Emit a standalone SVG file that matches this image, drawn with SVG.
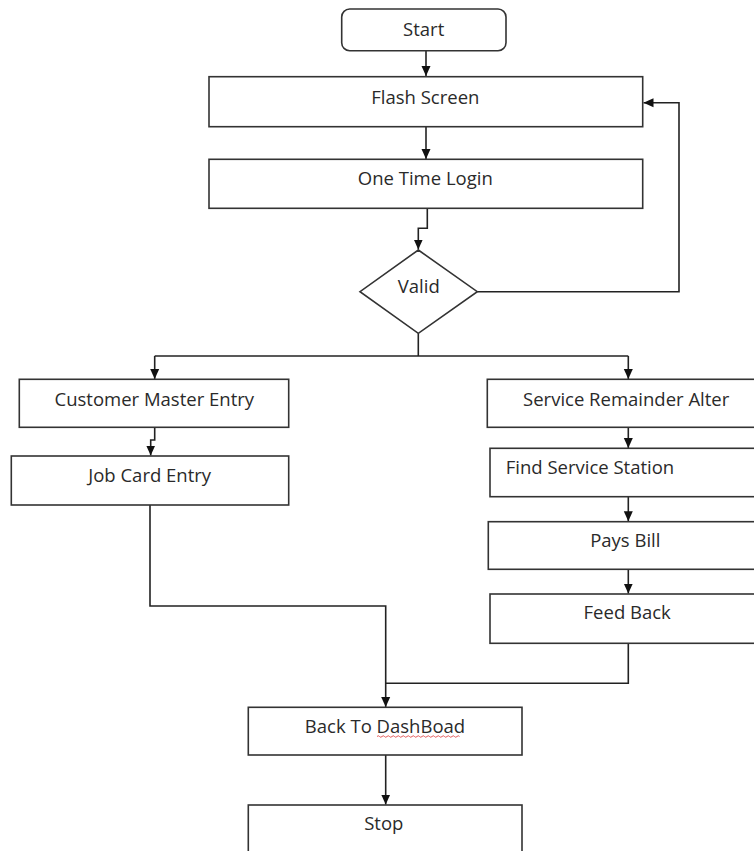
<svg xmlns="http://www.w3.org/2000/svg" width="754" height="851" viewBox="0 0 754 851">
<style>
.box{fill:#fff;stroke:#333;stroke-width:1.6}
.lbl{font-family:"Open Sans","Noto Sans","Liberation Sans",sans-serif;font-size:18.5px;fill:#2a2a2a;text-anchor:middle}
.ln{fill:none;stroke:#222;stroke-width:1.6}
</style>
<defs>
<marker id="ah" markerUnits="userSpaceOnUse" markerWidth="10" markerHeight="10" viewBox="0 0 10 10" refX="10" refY="5" orient="auto">
<path d="M0,0.5 L10,5 L0,9.5 Z" fill="#111"/>
</marker>
</defs>
<rect width="754" height="851" fill="#fff"/>
<g id="connectors">
<path class="ln" d="M426,51 V76" marker-end="url(#ah)"/>
<path class="ln" d="M426,127 V159" marker-end="url(#ah)"/>
<path class="ln" d="M427.3,208 V228.3 H418.3 V249.5" marker-end="url(#ah)"/>
<path class="ln" d="M477.3,291.7 H679 V102.7 H643.5" marker-end="url(#ah)"/>
<path class="ln" d="M418.3,333.3 V356"/>
<path class="ln" d="M154.7,356 H628.3"/>
<path class="ln" d="M154.7,356 V379" marker-end="url(#ah)"/>
<path class="ln" d="M628.3,356 V379" marker-end="url(#ah)"/>
<path class="ln" d="M154.7,427.3 V440 H150.7 V455.5" marker-end="url(#ah)"/>
<path class="ln" d="M628.3,427.3 V448" marker-end="url(#ah)"/>
<path class="ln" d="M628.3,496.7 V521.3" marker-end="url(#ah)"/>
<path class="ln" d="M628.3,569.3 V593.6" marker-end="url(#ah)"/>
<path class="ln" d="M150,505 V606 H385.7 V707" marker-end="url(#ah)"/>
<path class="ln" d="M628.3,643.3 V683.3 H385.7"/>
<path class="ln" d="M385.7,755 V804.6" marker-end="url(#ah)"/>
</g>
<g id="start">
<rect class="box" x="341.7" y="9" width="164.3" height="41.7" rx="8"/>
<text class="lbl" x="423.7" y="36">Start</text>
</g>
<g id="flash">
<rect class="box" x="209" y="76.7" width="433.7" height="50"/>
<text class="lbl" x="425.3" y="103.5">Flash Screen</text>
</g>
<g id="login">
<rect class="box" x="209" y="159.3" width="433.7" height="49"/>
<text class="lbl" x="425.3" y="184.5">One Time Login</text>
</g>
<g id="valid">
<path class="box" d="M418.3,250 L477.3,291.7 L418.3,333.3 L360,291.7 Z"/>
<text class="lbl" x="418.8" y="292.7">Valid</text>
</g>
<g id="customer">
<rect class="box" x="19.3" y="379.3" width="269.4" height="48"/>
<text class="lbl" x="154.3" y="405.7">Customer Master Entry</text>
</g>
<g id="jobcard">
<rect class="box" x="11.3" y="456" width="277.4" height="49"/>
<text class="lbl" x="149.7" y="481.5">Job Card Entry</text>
</g>
<g id="remainder">
<rect class="box" x="487.3" y="379.3" width="280" height="48"/>
<text class="lbl" x="626.2" y="406">Service Remainder Alter</text>
</g>
<g id="findstation">
<rect class="box" x="490" y="448.3" width="280" height="48.4"/>
<text class="lbl" x="505.7" y="474" style="text-anchor:start">Find Service Station</text>
</g>
<g id="paysbill">
<rect class="box" x="488.3" y="521.7" width="280" height="47.6"/>
<text class="lbl" x="625.3" y="547.3">Pays Bill</text>
</g>
<g id="feedback">
<rect class="box" x="490" y="594" width="280" height="49.3"/>
<text class="lbl" x="627.2" y="618.7">Feed Back</text>
</g>
<g id="dashboard">
<rect class="box" x="248.3" y="707.3" width="273.7" height="47.7"/>
<text class="lbl" x="385" y="732.7">Back To DashBoad</text>
<path d="M377,736.5 q1.25,-1.5 2.5,0 t2.5,0 t2.5,0 t2.5,0 t2.5,0 t2.5,0 t2.5,0 t2.5,0 t2.5,0 t2.5,0 t2.5,0 t2.5,0 t2.5,0 t2.5,0 t2.5,0 t2.5,0 t2.5,0 t2.5,0 t2.5,0 t2.5,0 t2.5,0 t2.5,0 t2.5,0 t2.5,0 t2.5,0 t2.5,0 t2.5,0 t2.5,0 t2.5,0 t2.5,0 t2.5,0 t2.5,0 t2.5,0" fill="none" stroke="#d33" stroke-width="0.8"/>
</g>
<g id="stop">
<rect class="box" x="248.3" y="805" width="273.7" height="60"/>
<text class="lbl" x="383.8" y="830">Stop</text>
</g>
</svg>
